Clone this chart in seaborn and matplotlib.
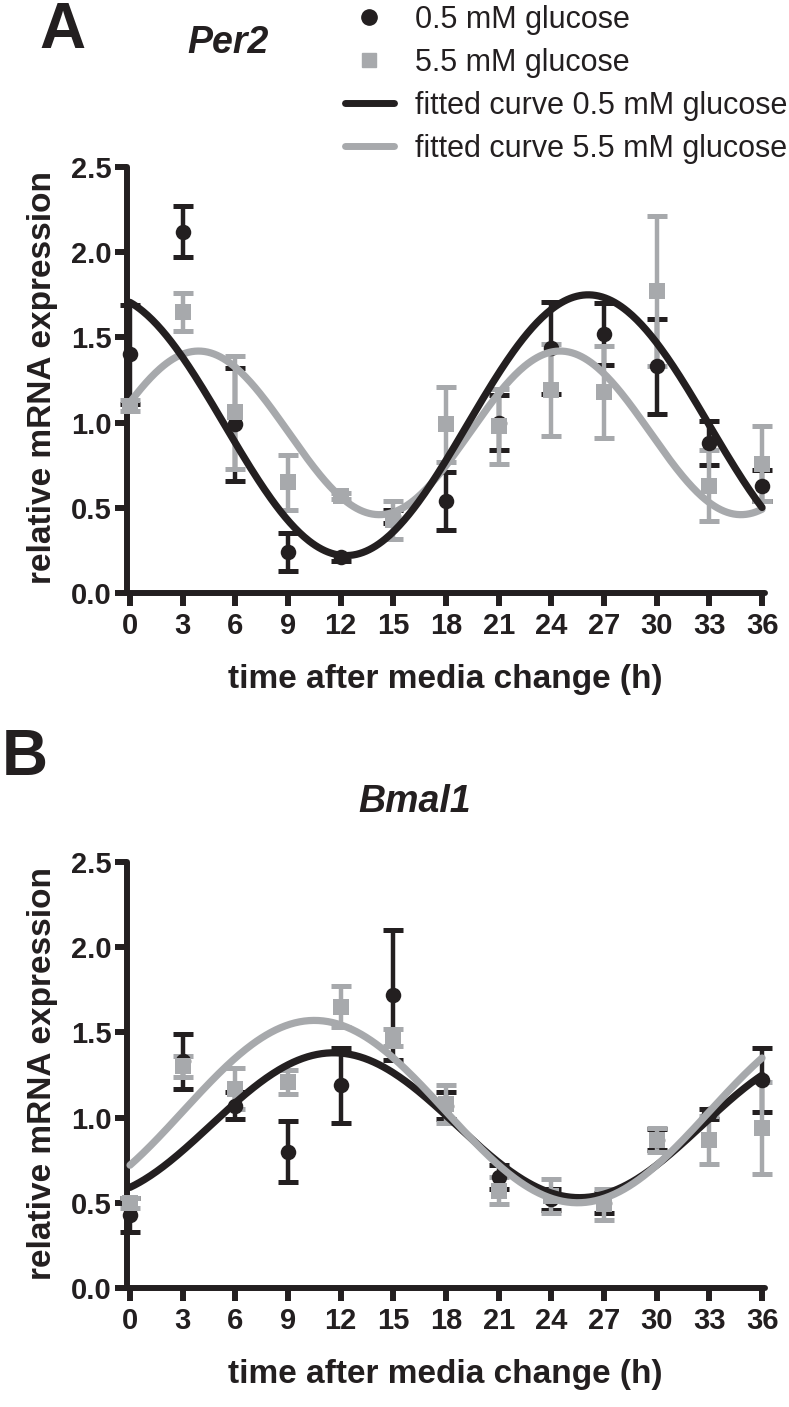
import numpy as np
import pandas as pd
import matplotlib
matplotlib.use("Agg")
import matplotlib.pyplot as plt
import seaborn as sns
from matplotlib.lines import Line2D

# sampling times (h after media change)
hours = [0, 3, 6, 9, 12, 15, 18, 21, 24, 27, 30, 33, 36]

# Per2 relative mRNA expression (mean, SEM)
per2_low_mean = [1.40, 2.12, 0.99, 0.24, 0.21, 0.45, 0.54, 1.00, 1.44, 1.52, 1.33, 0.88, 0.63]
per2_low_sem = [0.29, 0.15, 0.33, 0.11, 0.02, 0.04, 0.17, 0.16, 0.27, 0.18, 0.28, 0.13, 0.09]
per2_high_mean = [1.10, 1.65, 1.06, 0.65, 0.57, 0.43, 0.99, 0.98, 1.19, 1.18, 1.77, 0.63, 0.76]
per2_high_sem = [0.03, 0.11, 0.33, 0.16, 0.02, 0.11, 0.22, 0.22, 0.27, 0.27, 0.44, 0.21, 0.22]

# Bmal1 relative mRNA expression (mean, SEM)
bmal1_low_mean = [0.43, 1.33, 1.07, 0.80, 1.19, 1.72, 1.07, 0.65, 0.52, 0.50, 0.87, 1.02, 1.22]
bmal1_low_sem = [0.10, 0.16, 0.08, 0.18, 0.22, 0.38, 0.08, 0.07, 0.06, 0.06, 0.06, 0.03, 0.19]
bmal1_high_mean = [0.50, 1.30, 1.17, 1.21, 1.65, 1.47, 1.08, 0.57, 0.54, 0.49, 0.87, 0.87, 0.94]
bmal1_high_sem = [0.03, 0.06, 0.12, 0.07, 0.12, 0.05, 0.11, 0.08, 0.10, 0.09, 0.07, 0.14, 0.27]

# fitted sine curves: mesor, amplitude, period (h), peak time (h)
per2_low_fit = [0.985, 0.765, 27.6, 26.1]
per2_high_fit = [0.94, 0.48, 20.6, 3.9]
bmal1_low_fit = [0.955, 0.425, 28.0, 11.6]
bmal1_high_fit = [1.035, 0.535, 30.0, 10.5]

labels = ["0.5 mM glucose", "5.5 mM glucose",
          "fitted curve 0.5 mM glucose", "fitted curve 5.5 mM glucose"]

BLACK = "#231f20"
GREY = "#a7a9ac"

sns.set_theme(style="ticks")
plt.rcParams["font.family"] = ["Liberation Sans", "DejaVu Sans"]


def sine_curve(t, params):
    mesor, amp, period, peak = params
    return mesor + amp * np.cos(2 * np.pi * (t - peak) / period)


def draw_panel(ax, low_mean, low_sem, high_mean, high_sem, low_fit, high_fit, curve_order):
    # error bars + points, black group under the grey one
    for mean, sem, color, marker in [(low_mean, low_sem, BLACK, "o"),
                                     (high_mean, high_sem, GREY, "s")]:
        ax.errorbar(hours, mean, yerr=sem, fmt="none", ecolor=color,
                    elinewidth=3.2, capsize=7, capthick=3.6, zorder=2)
        sns.scatterplot(x=hours, y=mean, marker=marker, s=125, color=color,
                        linewidth=0, ax=ax, zorder=3)

    tt = np.linspace(0, 36, 400)
    curves = pd.DataFrame({
        "t": np.concatenate([tt, tt]),
        "expr": np.concatenate([sine_curve(tt, low_fit), sine_curve(tt, high_fit)]),
        "group": ["low"] * len(tt) + ["high"] * len(tt),
    })
    sns.lineplot(data=curves, x="t", y="expr", hue="group", hue_order=curve_order,
                 palette={"low": BLACK, "high": GREY}, linewidth=5.2,
                 legend=False, ax=ax, zorder=4)

    ax.set_xlim(-0.17, 36.17)
    ax.set_ylim(0, 2.5)
    ax.set_xticks(hours)
    ax.set_xticklabels([str(h) for h in hours])
    ax.set_yticks([0.0, 0.5, 1.0, 1.5, 2.0, 2.5])
    ax.set_yticklabels(["0.0", "0.5", "1.0", "1.5", "2.0", "2.5"])
    ax.set_xlabel("")
    ax.set_ylabel("")
    for side in ["top", "right"]:
        ax.spines[side].set_visible(False)
    for side in ["left", "bottom"]:
        ax.spines[side].set_linewidth(4.3)
        ax.spines[side].set_color(BLACK)
        ax.spines[side].set_capstyle("round")
    ax.tick_params(axis="both", direction="out", length=9, width=4.3,
                   color=BLACK, labelsize=21, labelcolor=BLACK, pad=2)
    ax.tick_params(axis="x", pad=5)
    for lab in ax.get_xticklabels() + ax.get_yticklabels():
        lab.set_fontweight("bold")
    for art in ax.lines + ax.collections:
        art.set_clip_on(False)


fig = plt.figure(figsize=(7.89, 14.07), dpi=100)

ax_a = fig.add_axes([0.161, 0.5785, 0.8086, 0.3028])
draw_panel(ax_a, per2_low_mean, per2_low_sem, per2_high_mean, per2_high_sem,
           per2_low_fit, per2_high_fit, ["high", "low"])

ax_b = fig.add_axes([0.161, 0.0846, 0.8086, 0.3028])
draw_panel(ax_b, bmal1_low_mean, bmal1_low_sem, bmal1_high_mean, bmal1_high_sem,
           bmal1_low_fit, bmal1_high_fit, ["low", "high"])

# panel letters and gene names
fig.text(62 / 789, 1 - 48 / 1407, "A", fontsize=46, fontweight="bold", ha="center", va="baseline", color=BLACK)
fig.text(2 / 789, 1 - 775 / 1407, "B", fontsize=46, fontweight="bold", ha="left", va="baseline", color=BLACK)
fig.text(228 / 789, 1 - 53 / 1407, "Per2", fontsize=27, fontweight="bold", fontstyle="italic",
         ha="center", va="baseline", color=BLACK)
fig.text(415 / 789, 1 - 812 / 1407, "Bmal1", fontsize=27, fontweight="bold", fontstyle="italic",
         ha="center", va="baseline", color=BLACK)

# axis titles
for base_y, mid_y in [(688, 378), (1383, 1073)]:
    fig.text(445 / 789, 1 - base_y / 1407, "time after media change (h)", fontsize=24,
             fontweight="bold", ha="center", va="baseline", color=BLACK)
    fig.text(43 / 789, 1 - mid_y / 1407, "relative mRNA expression", fontsize=24,
             fontweight="bold", rotation=90, ha="center", va="center", color=BLACK)

handles = [
    Line2D([], [], marker="o", linestyle="none", color=BLACK, markersize=11),
    Line2D([], [], marker="s", linestyle="none", color=GREY, markersize=10),
    Line2D([], [], color=BLACK, linewidth=5),
    Line2D([], [], color=GREY, linewidth=5),
]
fig.legend(handles, labels, loc="upper left", bbox_to_anchor=(345 / 789, 1 - 5 / 1407),
           frameon=False, fontsize=22, handlelength=1.6, handletextpad=0.7,
           labelspacing=0.42, borderpad=0.0, borderaxespad=0.0, labelcolor=BLACK)

fig.savefig("out.png", dpi=100, facecolor="white")
